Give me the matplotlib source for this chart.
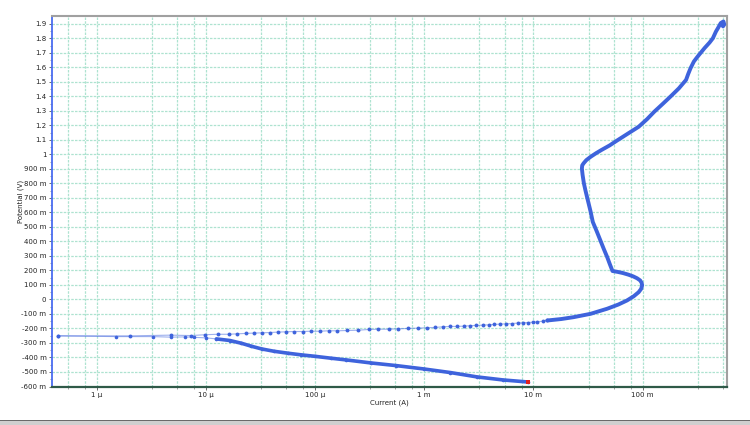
import numpy as np
import matplotlib.pyplot as plt
from matplotlib.ticker import FixedLocator, FuncFormatter
from matplotlib.patches import Rectangle

# cathodic branch, in scan order (from the start point up to Ecorr)
cath_current = [8.9e-3, 5.3e-3, 3.05e-3, 1.74e-3, 9.9e-4, 5.55e-4, 3.28e-4, 1.94e-4,
                1.4e-4, 1.0e-4, 7.5e-5, 5.7e-5, 4.2e-5, 3.24e-5, 2.6e-5, 2.12e-5,
                1.66e-5, 1.25e-5, 1.01e-5,
                7.8e-6, 6.45e-6, 4.8e-6, 3.3e-6, 1.5e-6, 4.4e-7]
cath_potential = [-0.569, -0.555, -0.534, -0.504, -0.479, -0.456, -0.438, -0.417,
                  -0.405, -0.392, -0.382, -0.371, -0.357, -0.341, -0.322, -0.302,
                  -0.283, -0.272, -0.265,
                  -0.261, -0.258, -0.260, -0.256, -0.256, -0.251]

# anodic branch, sparse points near Ecorr
anod_current = [4.4e-7, 2.04e-6, 4.77e-6, 7.3e-6, 9.9e-6, 1.29e-5, 1.62e-5,
                1.94e-5, 2.33e-5, 2.76e-5, 3.24e-5, 3.86e-5, 4.61e-5, 5.42e-5, 6.41e-5,
                7.7e-5, 9.1e-5, 1.10e-4, 1.33e-4, 1.60e-4, 1.98e-4, 2.50e-4, 3.09e-4,
                3.81e-4, 4.71e-4, 5.81e-4, 7.03e-4, 8.69e-4, 1.06e-3, 1.26e-3, 1.50e-3,
                1.73e-3, 2.00e-3, 2.30e-3, 2.61e-3, 3.0e-3, 3.43e-3, 3.89e-3, 4.39e-3,
                4.98e-3, 5.65e-3, 6.38e-3, 7.18e-3, 8.05e-3, 8.94e-3, 9.93e-3, 1.09e-2,
                1.22e-2, 1.34e-2]
anod_potential = [-0.251, -0.251, -0.246, -0.249, -0.243, -0.240, -0.240,
                  -0.237, -0.234, -0.232, -0.230, -0.228, -0.225, -0.223, -0.221,
                  -0.221, -0.219, -0.219, -0.216, -0.216, -0.214, -0.212, -0.207,
                  -0.205, -0.205, -0.202, -0.200, -0.198, -0.195, -0.193, -0.188,
                  -0.186, -0.186, -0.184, -0.181, -0.179, -0.177, -0.175, -0.172,
                  -0.170, -0.168, -0.166, -0.163, -0.161, -0.159, -0.157, -0.154,
                  -0.150, -0.145]

# anodic branch, dense part (active peak, passive region, transpassive)
high_current = [1.34e-2, 1.8e-2, 2.34e-2, 3.34e-2, 4.74e-2, 6.0e-2, 7.2e-2, 8.3e-2,
                9.2e-2, 9.7e-2, 9.9e-2, 9.8e-2, 9.5e-2, 8.9e-2, 8.2e-2, 7.4e-2, 6.6e-2,
                5.9e-2, 5.3e-2, 5.0e-2, 4.74e-2, 4.4e-2, 4.1e-2, 3.8e-2, 3.5e-2,
                3.33e-2, 3.15e-2, 3.0e-2, 2.9e-2, 2.82e-2, 2.78e-2, 2.8e-2, 2.88e-2,
                3.05e-2, 3.34e-2, 3.75e-2, 4.2e-2, 5.0e-2, 5.8e-2, 7.3e-2, 9.2e-2,
                1.1e-1, 1.28e-1, 1.52e-1, 1.8e-1, 2.15e-1, 2.5e-1, 2.62e-1, 2.75e-1,
                2.95e-1, 3.2e-1, 3.7e-1, 4.1e-1, 4.4e-1, 4.7e-1, 4.9e-1, 5.2e-1,
                5.5e-1, 5.6e-1, 5.45e-1]
high_potential = [-0.145, -0.135, -0.122, -0.099, -0.064, -0.035, -0.007, 0.022,
                  0.050, 0.073, 0.097, 0.115, 0.131, 0.146, 0.159, 0.171, 0.182,
                  0.190, 0.196, 0.245, 0.292, 0.350, 0.408, 0.470, 0.534,
                  0.610, 0.684, 0.750, 0.800, 0.860, 0.903, 0.924, 0.938,
                  0.960, 0.983, 1.008, 1.030, 1.062, 1.094, 1.142, 1.190,
                  1.243, 1.294, 1.346, 1.398, 1.455, 1.513, 1.555, 1.594,
                  1.640, 1.675, 1.733, 1.770, 1.800, 1.847, 1.870, 1.905,
                  1.916, 1.895, 1.882]

x_decades = [1e-6, 1e-5, 1e-4, 1e-3, 1e-2, 1e-1]
x_labels = ['1 µ', '10 µ', '100 µ', '1 m', '10 m', '100 m']
minor_steps = [3.2, 5.45, 7.8]

blue = '#3e63dc'

fig = plt.figure(figsize=(7.5, 4.25), dpi=100)
ax = fig.add_axes([52 / 750, 1 - 386.5 / 425, 675 / 750, 371 / 425])

ax.set_xscale('log')
ax.set_xlim(3.9e-7, 0.593)
ax.set_ylim(-0.6, 1.957)

# grid
minor_x = [d * s for d in [1e-7, 1e-6, 1e-5, 1e-4, 1e-3, 1e-2, 1e-1] for s in minor_steps]
ax.xaxis.set_major_locator(FixedLocator(x_decades))
ax.xaxis.set_minor_locator(FixedLocator(minor_x))
ax.xaxis.set_major_formatter(FuncFormatter(lambda v, p: dict(zip(x_decades, x_labels)).get(v, '')))
ax.xaxis.set_minor_formatter(FuncFormatter(lambda v, p: ''))

y_ticks = np.round(np.arange(-0.6, 1.95, 0.1), 2)
ax.yaxis.set_major_locator(FixedLocator(y_ticks))
ax.yaxis.set_minor_locator(FixedLocator(np.round(np.arange(-0.55, 1.95, 0.1), 2)))


def fmt_v(v, pos):
    v = round(v, 2)
    if abs(v) < 1e-9:
        return '0'
    if abs(v) < 0.999:
        return '%d m' % round(v * 1000)
    return '%g' % v


ax.yaxis.set_major_formatter(FuncFormatter(fmt_v))

grid_kw = dict(color='#aee3d0', linestyle=(0, (2, 1)), linewidth=0.9)
ax.grid(True, which='major', axis='both', **grid_kw)
ax.grid(True, which='minor', axis='x', **grid_kw)

ax.tick_params(axis='both', which='major', labelsize=5, length=2, width=0.6,
               colors='#555555', labelcolor='#222222', pad=2)
ax.tick_params(axis='both', which='minor', length=1.5, width=0.5, colors='#777777')

ax.set_xlabel('Current (A)', fontsize=5, color='#222222', labelpad=1)
ax.set_ylabel('Potential (V)', fontsize=5, color='#222222')
ax.yaxis.set_label_coords(-0.041, 0.5)

for side in ['top', 'right']:
    ax.spines[side].set_color('#a0a0a0')
    ax.spines[side].set_linewidth(1.5)
ax.spines['left'].set_color('#4a6cf0')
ax.spines['left'].set_linewidth(1.3)
ax.spines['bottom'].set_color('#2f5a48')
ax.spines['bottom'].set_linewidth(1.6)

# curves
ax.plot(cath_current, cath_potential, color=blue, lw=0.8, alpha=0.5, zorder=3)
ax.plot(cath_current[:18], cath_potential[:18], color=blue, lw=2.6,
        solid_joinstyle='round', solid_capstyle='round', zorder=4)
ax.plot(cath_current, cath_potential, 'o', color=blue, ms=2.6, mew=0, zorder=5)

ax.plot(anod_current, anod_potential, color=blue, lw=0.8, alpha=0.5, zorder=3)
ax.plot(anod_current, anod_potential, 'o', color=blue, ms=2.8, mew=0, zorder=5)

ax.plot(high_current, high_potential, color=blue, lw=2.8, solid_joinstyle='round',
        solid_capstyle='round', zorder=4)

# start point marker
ax.plot(cath_current[0], cath_potential[0], 's', color='#e02020', ms=2.2, mew=0, zorder=6)

# window status strip at the bottom
fig.patches.append(Rectangle((0, 0), 1, 4 / 425, transform=fig.transFigure,
                             facecolor='#cfcfcf', edgecolor='none'))
fig.patches.append(Rectangle((0, 4 / 425), 1, 1.5 / 425, transform=fig.transFigure,
                             facecolor='#6a6a6a', edgecolor='none'))

fig.savefig('out.png', dpi=100)
